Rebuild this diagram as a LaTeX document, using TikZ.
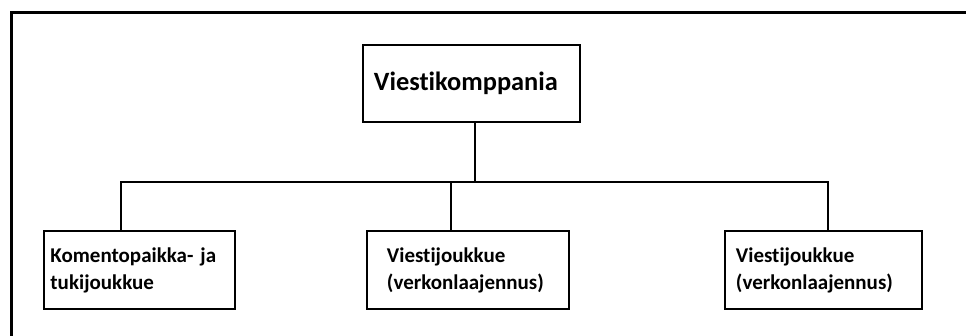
\documentclass[tikz,border=0pt]{standalone}
\usepackage{fontspec}
\setmainfont{Carlito}[Ligatures={NoCommon}]
\begin{document}
\begin{tikzpicture}[x=1pt,y=-1pt,
  unitbox/.style={draw, line width=1.9pt, align=left, anchor=north west,
    font=\bfseries\fontsize{21}{27}\selectfont, inner ysep=0pt},
  link/.style={line width=1.9pt}]
  \useasboundingbox (0,0) rectangle (966,336);
  \clip (0,0) rectangle (966,336);
  % outer frame, running off the right and bottom edges
  \draw[line width=3pt] (11,13) rectangle (980,350);
  % company
  \node[unitbox, font=\bfseries\fontsize{26.4}{30}\selectfont, inner xsep=11pt,
        text width=195pt, minimum height=77pt] (top) at (362,44) {Viestikomppania};
  % platoons
  \node[unitbox, inner xsep=6.5pt, text width=178pt, minimum height=78pt]
        (c1) at (43,230) {Komentopaikka- ja\\tukijoukkue};
  \node[unitbox, inner xsep=20pt, text width=162pt, minimum height=78pt]
        (c2) at (366,230) {Viestijoukkue\\(verkonlaajennus)};
  \node[unitbox, inner xsep=11pt, text width=175pt, minimum height=78pt]
        (c3) at (724,230) {Viestijoukkue\\(verkonlaajennus)};
  % connector bus
  \coordinate (j0) at (475,182);
  \coordinate (j1) at (121,182);
  \coordinate (j2) at (451,182);
  \coordinate (j3) at (828,182);
  \draw[link] (top.south -| j0) -- (j0);
  \draw[link] (j1 |- c1.north) -- (j1) -- (j3) -- (j3 |- c3.north);
  \draw[link] (j2) -- (j2 |- c2.north);
\end{tikzpicture}
\end{document}
